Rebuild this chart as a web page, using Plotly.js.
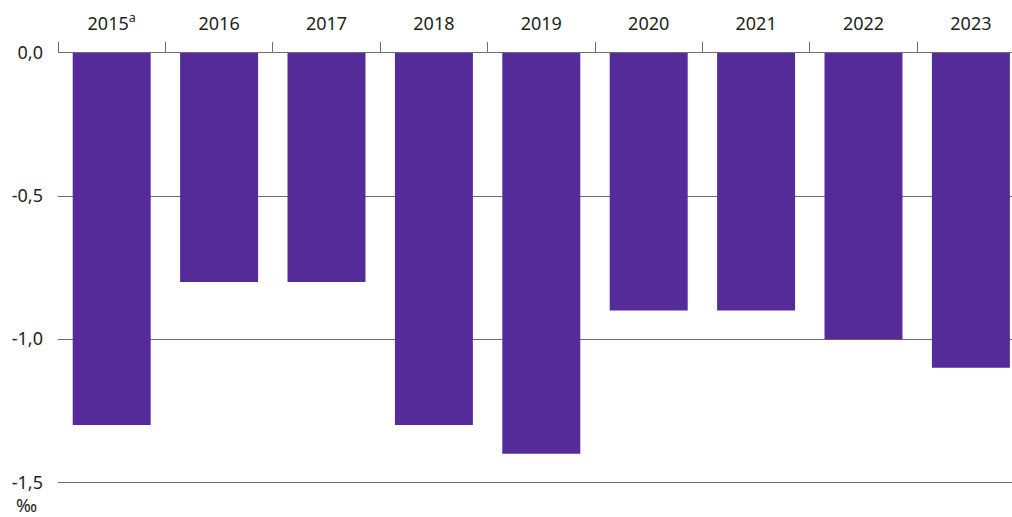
<!DOCTYPE html>
<html>
<head>
<meta charset="utf-8">
<script src="https://cdn.plot.ly/plotly-3.0.1.min.js"></script>
<style>html,body{margin:0;padding:0;background:#fff;}#chart{width:1012px;height:517px;}</style>
</head>
<body>
<div id="chart"></div>
<script>
const categories = ["2015<sup>a</sup>", "2016", "2017", "2018", "2019", "2020", "2021", "2022", "2023"];
const values = [-1.3, -0.8, -0.8, -1.3, -1.4, -0.9, -0.9, -1.0, -1.1];
const yTickVals = [0, -0.5, -1.0, -1.5];
const yTickText = ["0,0", "-0,5", "-1,0", "-1,5"];
const unitLabel = "‰";

const W = 1012, L = 58, R = 0;
const catW = 107.4;
const plotW = W - L - R;
const xMax = -0.5 + plotW / catW;

const data = [{
  type: "bar",
  x: categories,
  y: values,
  marker: {color: "#552b9a", line: {width: 0}},
  width: 0.726,
  hoverinfo: "x+y"
}];

const layout = {
  width: 1012, height: 517,
  margin: {l: L, r: R, t: 53, b: 29, pad: 0},
  paper_bgcolor: "#fff", plot_bgcolor: "#fff",
  font: {family: "Noto Sans, Open Sans, sans-serif", size: 18, color: "#231f20"},
  showlegend: false,
  xaxis: {
    side: "top",
    type: "category",
    range: [-0.5, xMax],
    showline: true, linecolor: "#6d6d6d", linewidth: 1,
    ticks: "outside", ticklen: 10, tickcolor: "#6d6d6d", tickwidth: 1,
    tickson: "boundaries",
    showgrid: false, zeroline: false,
    tickfont: {size: 18, color: "#231f20"},
    ticklabelstandoff: 15,
    fixedrange: true
  },
  yaxis: {
    range: [-1.52, 0],
    tickvals: yTickVals,
    ticktext: yTickText,
    showgrid: true, gridcolor: "#6d6d6d", gridwidth: 1,
    zeroline: false, showline: false, ticks: "",
    tickfont: {size: 18, color: "#231f20"},
    ticklabelstandoff: 14,
    fixedrange: true
  },
  annotations: [{
    text: unitLabel, xref: "paper", yref: "paper",
    x: (26 - L) / plotW, y: (488 - 505) / 435,
    xanchor: "center", yanchor: "middle",
    showarrow: false, font: {size: 18, color: "#231f20"}
  }]
};

Plotly.newPlot("chart", data, layout, {displayModeBar: false, staticPlot: true});
</script>
</body>
</html>
